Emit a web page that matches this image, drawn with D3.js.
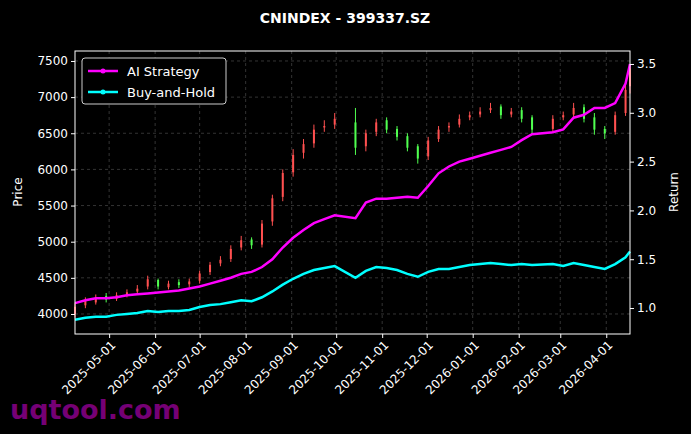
<!DOCTYPE html>
<html><head><meta charset="utf-8">
<script src="https://cdn.jsdelivr.net/npm/d3@7"></script>
<style>body{margin:0;background:#000}svg{display:block;font-family:"DejaVu Sans",sans-serif}</style>
</head><body><svg id="chart" width="691" height="434"></svg>
<script>
var dates = ["2025-04-08","2025-04-15","2025-04-22","2025-04-29","2025-05-06","2025-05-13","2025-05-20","2025-05-27","2025-06-03","2025-06-10","2025-06-17","2025-06-24","2025-07-01","2025-07-08","2025-07-15","2025-07-22","2025-07-29","2025-08-05","2025-08-12","2025-08-19","2025-08-26","2025-09-02","2025-09-09","2025-09-16","2025-09-23","2025-09-30","2025-10-14","2025-10-21","2025-10-28","2025-11-04","2025-11-11","2025-11-18","2025-11-25","2025-12-02","2025-12-09","2025-12-16","2025-12-23","2025-12-30","2026-01-06","2026-01-13","2026-01-20","2026-01-27","2026-02-03","2026-02-10","2026-02-24","2026-03-03","2026-03-10","2026-03-17","2026-03-24","2026-03-31","2026-04-07","2026-04-14","2026-04-17"];
var closes = [4100,4180,4220,4200,4260,4300,4350,4480,4380,4420,4400,4450,4560,4680,4750,4900,5020,4950,5250,5600,5950,6200,6350,6550,6600,6700,6300,6500,6650,6550,6450,6300,6150,6400,6550,6600,6700,6750,6800,6850,6750,6800,6700,6550,6700,6750,6850,6700,6550,6500,6750,7100,7400];
var opens = [4000,4120,4160,4250,4210,4270,4310,4380,4470,4370,4440,4410,4460,4580,4700,4760,4920,5030,4960,5280,5620,5960,6230,6360,6580,6620,6650,6320,6520,6680,6560,6460,6320,6180,6420,6580,6620,6720,6760,6820,6870,6760,6820,6720,6560,6720,6760,6860,6720,6560,6520,6780,7150];
var highs = [4150,4230,4270,4290,4300,4340,4400,4530,4490,4460,4480,4490,4600,4720,4800,4950,5080,5060,5300,5650,6000,6280,6420,6620,6680,6780,6850,6550,6700,6720,6600,6500,6350,6450,6600,6650,6760,6800,6860,6920,6900,6850,6860,6750,6750,6800,6920,6900,6780,6600,6800,7200,7450];
var lows = [3950,4080,4130,4160,4180,4230,4280,4340,4340,4340,4360,4370,4420,4540,4660,4720,4880,4900,4920,5220,5560,5900,6150,6300,6520,6560,6200,6250,6460,6500,6400,6250,6080,6130,6380,6520,6580,6680,6720,6780,6700,6720,6650,6480,6520,6680,6720,6650,6480,6420,6480,6740,7050];
var strategy = [1.05,1.08,1.10,1.10,1.11,1.13,1.14,1.15,1.16,1.17,1.18,1.20,1.22,1.25,1.28,1.31,1.35,1.37,1.42,1.50,1.62,1.72,1.80,1.87,1.91,1.95,1.92,2.08,2.12,2.12,2.13,2.14,2.13,2.25,2.38,2.45,2.50,2.53,2.56,2.59,2.62,2.65,2.72,2.78,2.80,2.83,2.95,2.98,3.05,3.05,3.10,3.30,3.50];
var buyHold = [0.88,0.90,0.91,0.91,0.93,0.94,0.95,0.97,0.96,0.97,0.97,0.98,1.01,1.03,1.04,1.06,1.08,1.07,1.11,1.17,1.24,1.30,1.35,1.39,1.41,1.43,1.31,1.38,1.42,1.41,1.39,1.35,1.32,1.37,1.40,1.40,1.42,1.44,1.45,1.46,1.45,1.44,1.45,1.44,1.45,1.43,1.46,1.44,1.42,1.40,1.45,1.52,1.58];
var priceTicks = [4000,4500,5000,5500,6000,6500,7000,7500];
var returnTicks = [1.0,1.5,2.0,2.5,3.0,3.5];
var monthTicks = ["2025-05-01","2025-06-01","2025-07-01","2025-08-01","2025-09-01","2025-10-01","2025-11-01","2025-12-01","2026-01-01","2026-02-01","2026-03-01","2026-04-01"];

var parse = d3.timeParse("%Y-%m-%d");
var svg = d3.select("#chart");
var L = 75, R = 630, T = 51, B = 334;
var x = d3.scaleTime().domain([parse("2025-04-08"), parse("2026-04-17")]).range([L, R]);
var y = d3.scaleLinear().domain([3723, 7638]).range([B, T]);
var y2 = d3.scaleLinear().domain([0.734, 3.633]).range([B, T]);

svg.append("rect").attr("width", 691).attr("height", 434).attr("fill", "#000");

// grid
var grid = svg.append("g").attr("stroke", "#555").attr("stroke-dasharray", "3,3").attr("stroke-width", 0.6);
priceTicks.forEach(function (t) { grid.append("line").attr("x1", L).attr("x2", R).attr("y1", y(t)).attr("y2", y(t)); });
monthTicks.forEach(function (t) { grid.append("line").attr("y1", T).attr("y2", B).attr("x1", x(parse(t))).attr("x2", x(parse(t))); });

// candles
var data = dates.map(function (d, i) { return {d: parse(d), o: opens[i], c: closes[i], h: highs[i], l: lows[i], s: strategy[i], b: buyHold[i]}; });
var cg = svg.append("g");
data.forEach(function (p) {
    var col = p.c >= p.o ? "#ff5050" : "#50ff50";
    var cx = x(p.d);
    cg.append("line").attr("x1", cx).attr("x2", cx).attr("y1", y(p.h)).attr("y2", y(p.l)).attr("stroke", col).attr("stroke-width", 1);
    cg.append("rect").attr("x", cx - 1).attr("width", 2)
        .attr("y", y(Math.max(p.o, p.c))).attr("height", Math.max(1, Math.abs(y(p.o) - y(p.c)))).attr("fill", col);
});

// lines
var ls = d3.line().x(function (p) { return x(p.d); }).y(function (p) { return y2(p.s); });
var lb = d3.line().x(function (p) { return x(p.d); }).y(function (p) { return y2(p.b); });
svg.append("path").attr("d", lb(data)).attr("fill", "none").attr("stroke", "#00ffff").attr("stroke-width", 2.5);
svg.append("path").attr("d", ls(data)).attr("fill", "none").attr("stroke", "#ff00ff").attr("stroke-width", 2.5);

// frame
svg.append("rect").attr("x", L).attr("y", T).attr("width", R - L).attr("height", B - T).attr("fill", "none").attr("stroke", "#fff").attr("stroke-width", 1);

// axes
var ax = svg.append("g").attr("transform", "translate(0," + B + ")")
    .call(d3.axisBottom(x).tickValues(monthTicks.map(parse)).tickFormat(d3.timeFormat("%Y-%m-%d")).tickSize(4));
ax.selectAll("text").attr("transform", "rotate(-45)").attr("text-anchor", "end").attr("dx", "-0.3em").attr("dy", "0.5em");
var ay = svg.append("g").attr("transform", "translate(" + L + ",0)").call(d3.axisLeft(y).tickValues(priceTicks).tickFormat(d3.format("d")).tickSize(4));
var ay2 = svg.append("g").attr("transform", "translate(" + R + ",0)").call(d3.axisRight(y2).tickValues(returnTicks).tickFormat(d3.format(".1f")).tickSize(4));
[ax, ay, ay2].forEach(function (a) {
    a.select(".domain").remove();
    a.selectAll("line").attr("stroke", "#fff");
    a.selectAll("text").attr("fill", "#fff").attr("font-size", 12).attr("font-family", "DejaVu Sans");
});

svg.append("text").attr("x", 345).attr("y", 23).attr("text-anchor", "middle").attr("fill", "#fff").attr("font-size", 14).attr("font-weight", "bold").text("CNINDEX - 399337.SZ");
svg.append("text").attr("transform", "translate(22,192) rotate(-90)").attr("text-anchor", "middle").attr("fill", "#fff").attr("font-size", 12).text("Price");
svg.append("text").attr("transform", "translate(678,192) rotate(-90)").attr("text-anchor", "middle").attr("fill", "#fff").attr("font-size", 12).text("Return");

// legend
var lg = svg.append("g");
lg.append("rect").attr("x", 82).attr("y", 58).attr("width", 144).attr("height", 46).attr("rx", 3).attr("fill", "#000").attr("stroke", "#ccc").attr("stroke-width", 1);
[["AI Strategy", "#ff00ff", 71], ["Buy-and-Hold", "#00ffff", 92]].forEach(function (e) {
    lg.append("line").attr("x1", 88).attr("x2", 118).attr("y1", e[2]).attr("y2", e[2]).attr("stroke", e[1]).attr("stroke-width", 2.5);
    lg.append("circle").attr("cx", 103).attr("cy", e[2]).attr("r", 2.5).attr("fill", e[1]);
    lg.append("text").attr("x", 127).attr("y", e[2] + 4.5).attr("fill", "#fff").attr("font-size", 13).text(e[0]);
});

svg.append("text").attr("x", 10).attr("y", 419).attr("fill", "#8b008b").attr("fill-opacity", 0.85).attr("font-size", 27).attr("font-weight", "bold").text("uqtool.com");
</script></body></html>
